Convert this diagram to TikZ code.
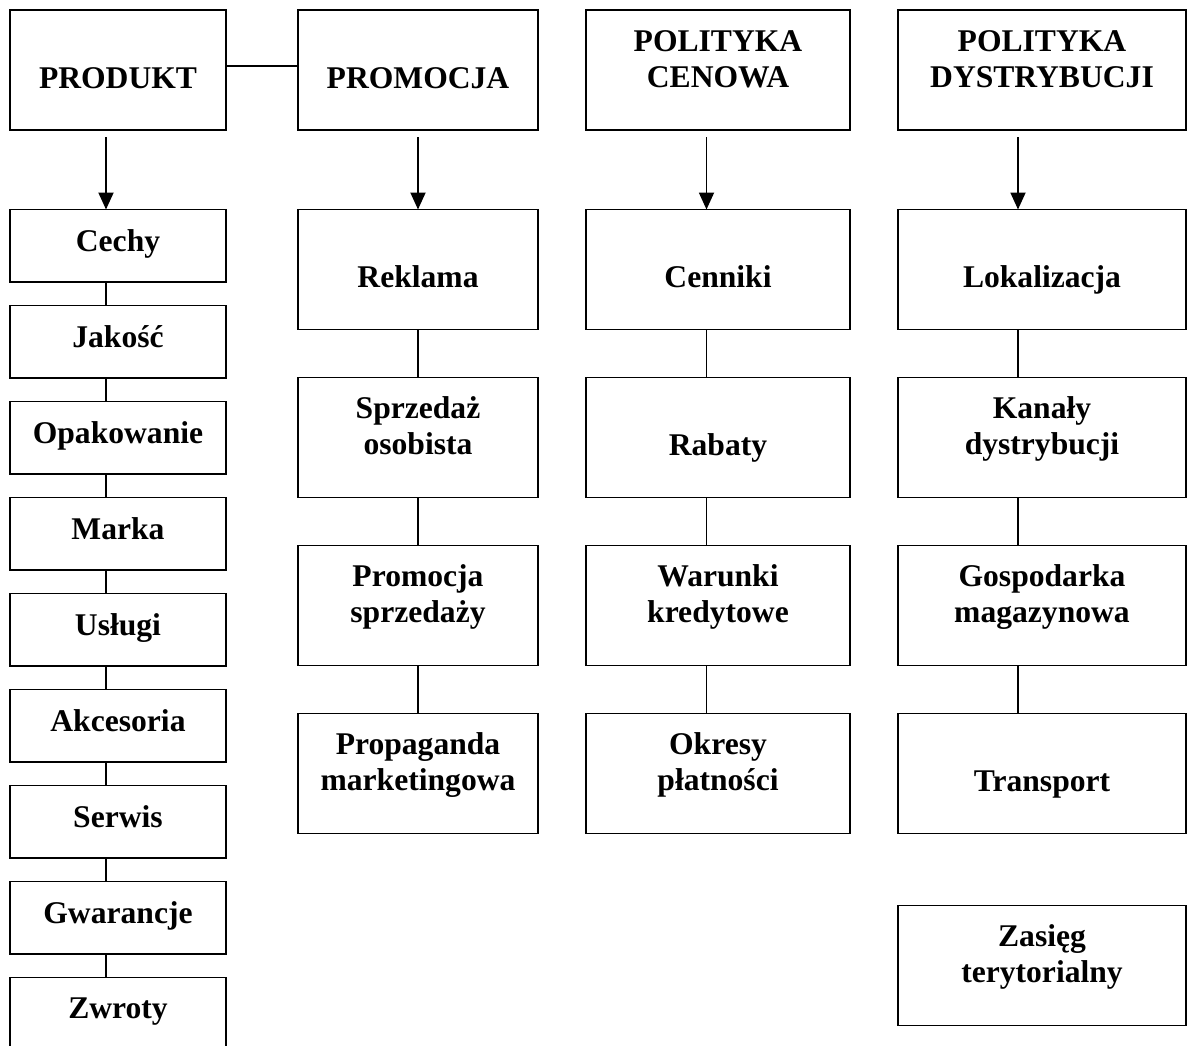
\documentclass[tikz,border=0pt]{standalone}
\usepackage{fontspec}
\setmainfont{Liberation Serif}
\usetikzlibrary{arrows.meta,calc}
\newcommand\mystrut{\rule{0pt}{22pt}}
\begin{document}
\begin{tikzpicture}[x=1pt,y=-1pt,
  box/.style={draw, line width=1.9pt, anchor=north west, inner sep=0pt, outer sep=0pt},
  boxa/.style={box, minimum width=216pt, minimum height=72.5pt},
  boxh/.style={box, minimum width=216pt, minimum height=120pt},
  boxb/.style={box, minimum width=240pt, minimum height=120pt},
  boxc/.style={box, minimum width=264pt, minimum height=120pt},
  boxd/.style={box, minimum width=288pt, minimum height=120pt},
  lbl/.style={anchor=north, inner sep=0pt, align=center, font=\fontsize{31.6}{36}\selectfont\bfseries},
  conn/.style={line width=1.9pt},
  arr/.style={conn, -{Triangle[length=17pt,width=15pt]}}]
\useasboundingbox (0,0) rectangle (1188,1045);

% headers
\node[boxh] (produkt) at (10,10) {};
\node[boxb] (promocja) at (298,10) {};
\node[boxc] (cenowa) at (586,10) {};
\node[boxd] (dystr) at (898,10) {};
\node[lbl] (produktT) at ($(produkt.north)+(0,56.5)$) {\mystrut PRODUKT};
\node[lbl] (promocjaT) at ($(promocja.north)+(0,56.5)$) {\mystrut PROMOCJA};
\node[lbl] (cenowaT) at ($(cenowa.north)+(0,19.5)$) {\mystrut POLITYKA\\CENOWA};
\node[lbl] (dystrT) at ($(dystr.north)+(0,19.5)$) {\mystrut POLITYKA\\DYSTRYBUCJI};

% column 1
\node[boxa] (cechy) at (10,209.5) {};
\node[boxa] (jakosc) at (10,305.5) {};
\node[boxa] (opak) at (10,401.5) {};
\node[boxa] (marka) at (10,497.5) {};
\node[boxa] (uslugi) at (10,593.5) {};
\node[boxa] (akces) at (10,689.5) {};
\node[boxa] (serwis) at (10,785.5) {};
\node[boxa] (gwar) at (10,881.5) {};
\node[boxa] (zwroty) at (10,977.5) {};
\node[lbl] (cechyT) at ($(cechy.north)+(0,19.5)$) {\mystrut Cechy};
\node[lbl] (jakoscT) at ($(jakosc.north)+(0,19.5)$) {\mystrut Jakość};
\node[lbl] (opakT) at ($(opak.north)+(0,19.5)$) {\mystrut Opakowanie};
\node[lbl] (markaT) at ($(marka.north)+(0,19.5)$) {\mystrut Marka};
\node[lbl] (uslugiT) at ($(uslugi.north)+(0,19.5)$) {\mystrut Usługi};
\node[lbl] (akcesT) at ($(akces.north)+(0,19.5)$) {\mystrut Akcesoria};
\node[lbl] (serwisT) at ($(serwis.north)+(0,19.5)$) {\mystrut Serwis};
\node[lbl] (gwarT) at ($(gwar.north)+(0,19.5)$) {\mystrut Gwarancje};
\node[lbl] (zwrotyT) at ($(zwroty.north)+(0,19)$) {\mystrut Zwroty};

% column 2
\node[boxb] (reklama) at (298,209.5) {};
\node[boxb] (sprzedaz) at (298,377.5) {};
\node[boxb] (promsprz) at (298,545.5) {};
\node[boxb] (propag) at (298,713.5) {};
\node[lbl] (reklamaT) at ($(reklama.north)+(0,56)$) {\mystrut Reklama};
\node[lbl] (sprzedazT) at ($(sprzedaz.north)+(0,19)$) {\mystrut Sprzedaż\\osobista};
\node[lbl] (promsprzT) at ($(promsprz.north)+(0,19)$) {\mystrut Promocja\\sprzedaży};
\node[lbl] (propagT) at ($(propag.north)+(0,19)$) {\mystrut Propaganda\\marketingowa};

% column 3
\node[boxc] (cenniki) at (586,209.5) {};
\node[boxc] (rabaty) at (586,377.5) {};
\node[boxc] (warunki) at (586,545.5) {};
\node[boxc] (okresy) at (586,713.5) {};
\node[lbl] (cennikiT) at ($(cenniki.north)+(0,56)$) {\mystrut Cenniki};
\node[lbl] (rabatyT) at ($(rabaty.north)+(0,56)$) {\mystrut Rabaty};
\node[lbl] (warunkiT) at ($(warunki.north)+(0,19)$) {\mystrut Warunki\\kredytowe};
\node[lbl] (okresyT) at ($(okresy.north)+(0,19)$) {\mystrut Okresy\\płatności};

% column 4
\node[boxd] (lokal) at (898,209.5) {};
\node[boxd] (kanaly) at (898,377.5) {};
\node[boxd] (gosp) at (898,545.5) {};
\node[boxd] (transport) at (898,713.5) {};
\node[boxd] (zasieg) at (898,905.5) {};
\node[lbl] (lokalT) at ($(lokal.north)+(0,56)$) {\mystrut Lokalizacja};
\node[lbl] (kanalyT) at ($(kanaly.north)+(0,19)$) {\mystrut Kanały\\dystrybucji};
\node[lbl] (gospT) at ($(gosp.north)+(0,19)$) {\mystrut Gospodarka\\magazynowa};
\node[lbl] (transportT) at ($(transport.north)+(0,56)$) {\mystrut Transport};
\node[lbl] (zasiegT) at ($(zasieg.north)+(0,19)$) {\mystrut Zasięg\\terytorialny};

% connector x positions
\coordinate (k1) at (106,0);
\coordinate (k2) at (418,0);
\coordinate (k3) at (706.5,0);
\coordinate (k4) at (1018,0);
\coordinate (s1) at (106,137);
\coordinate (s2) at (418,137);
\coordinate (s3) at (706.5,137);
\coordinate (s4) at (1018,137);
\coordinate (hl) at (0,66);

% header link
\draw[conn] (produkt.east |- hl) -- (promocja.west |- hl);

% arrows
\draw[arr] (s1) -- (s1 |- cechy.north);
\draw[arr] (s2) -- (s2 |- reklama.north);
\draw[arr] (s3) -- (s3 |- cenniki.north);
\draw[arr] (s4) -- (s4 |- lokal.north);

% column 1 links
\draw[conn] (cechy.south -| k1) -- (jakosc.north -| k1);
\draw[conn] (jakosc.south -| k1) -- (opak.north -| k1);
\draw[conn] (opak.south -| k1) -- (marka.north -| k1);
\draw[conn] (marka.south -| k1) -- (uslugi.north -| k1);
\draw[conn] (uslugi.south -| k1) -- (akces.north -| k1);
\draw[conn] (akces.south -| k1) -- (serwis.north -| k1);
\draw[conn] (serwis.south -| k1) -- (gwar.north -| k1);
\draw[conn] (gwar.south -| k1) -- (zwroty.north -| k1);

% column 2 links
\draw[conn] (reklama.south -| k2) -- (sprzedaz.north -| k2);
\draw[conn] (sprzedaz.south -| k2) -- (promsprz.north -| k2);
\draw[conn] (promsprz.south -| k2) -- (propag.north -| k2);

% column 3 links
\draw[conn] (cenniki.south -| k3) -- (rabaty.north -| k3);
\draw[conn] (rabaty.south -| k3) -- (warunki.north -| k3);
\draw[conn] (warunki.south -| k3) -- (okresy.north -| k3);

% column 4 links
\draw[conn] (lokal.south -| k4) -- (kanaly.north -| k4);
\draw[conn] (kanaly.south -| k4) -- (gosp.north -| k4);
\draw[conn] (gosp.south -| k4) -- (transport.north -| k4);
\end{tikzpicture}
\end{document}
